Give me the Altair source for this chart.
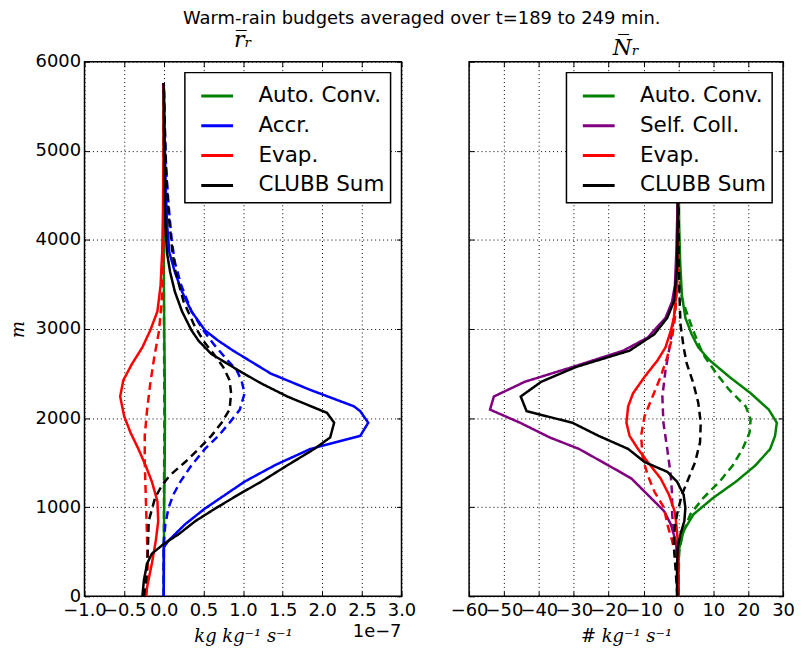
import altair as alt
import pandas as pd

# ---------------- left panel (r_r budgets, units of 1e-7 kg/kg/s) ----------------
L_PROCS = ["Auto. Conv.", "Accr.", "Evap.", "CLUBB Sum"]
L_COLORS = ["#008000", "#0000ff", "#ff0000", "#000000"]

auto_s_z = [0, 1000, 1500, 2000, 2500, 3000, 3500, 4000, 5760]
auto_s_x = [0, 0.005, 0.012, 0.015, 0.012, 0.006, 0.002, 0, 0]
auto_d_z = [0, 1200, 2000, 2800, 3500, 5760]
auto_d_x = [0, 0.003, 0.008, 0.004, 0.001, 0]

accr_s_z = [0, 550, 625, 809, 985, 1287, 1470, 1654, 1801, 1948, 2077, 2132, 2316, 2500,
            2757, 2867, 2985, 3198, 3419, 3640, 3860, 4200, 4600, 5000, 5400, 5760]
accr_s_x = [0, 0, 0.06, 0.27, 0.52, 1.02, 1.40, 1.85, 2.48, 2.58, 2.48, 2.40, 1.85, 1.35,
            0.875, 0.69, 0.52, 0.35, 0.23, 0.14, 0.07, 0.04, 0.025, 0.015, 0.008, 0]
accr_d_z = [0, 600, 809, 992, 1140, 1287, 1470, 1654, 1801, 1948, 2095, 2279, 2426, 2536,
            2684, 2830, 2985, 3198, 3492, 3750, 4000, 4400, 4800, 5200, 5760]
accr_d_x = [0, 0, 0.02, 0.06, 0.12, 0.21, 0.35, 0.52, 0.69, 0.83, 0.96, 1.02, 0.98, 0.92,
            0.77, 0.63, 0.50, 0.35, 0.22, 0.14, 0.10, 0.06, 0.03, 0.015, 0]

evap_s_z = [0, 150, 368, 625, 845, 1066, 1287, 1470, 1654, 1838, 2022, 2242, 2426, 2610,
            2794, 2985, 3198, 3492, 3860, 4300, 5000, 5760]
evap_s_x = [-0.23, -0.2, -0.15, -0.10, -0.07, -0.08, -0.15, -0.23, -0.32, -0.42, -0.50, -0.55,
            -0.51, -0.40, -0.27, -0.17, -0.08, -0.04, -0.02, -0.01, -0.003, 0]
evap_d_z = [0, 404, 625, 919, 1213, 1507, 1801, 2095, 2389, 2684, 2978, 3272, 3566, 4000, 5000, 5760]
evap_d_x = [-0.22, -0.2, -0.21, -0.22, -0.23, -0.24, -0.24, -0.21, -0.17, -0.12, -0.06, -0.03,
            -0.01, -0.005, 0, 0]

sum_s_z = [0, 184, 368, 478, 588, 698, 845, 985, 1140, 1287, 1470, 1654, 1783, 1948, 2059, 2095,
           2242, 2389, 2536, 2720, 2867, 2985, 3198, 3419, 3640, 3860, 4200, 4600, 5000, 5400, 5760]
sum_s_x = [-0.27, -0.25, -0.21, -0.15, 0, 0.19, 0.40, 0.65, 0.94, 1.23, 1.56, 1.90, 2.10, 2.15,
           2.06, 1.96, 1.56, 1.23, 0.94, 0.60, 0.44, 0.35, 0.23, 0.14, 0.08, 0.04, 0.02, 0.01,
           0.005, 0.002, 0]
sum_d_z = [0, 200, 551, 845, 1103, 1250, 1360, 1507, 1654, 1801, 1948, 2095, 2279, 2426, 2573,
           2720, 2867, 3051, 3308, 3640, 3860, 4200, 4600, 5000, 5400, 5760]
sum_d_x = [-0.25, -0.22, -0.2, -0.19, -0.11, -0.02, 0.08, 0.27, 0.44, 0.60, 0.73, 0.83, 0.85,
           0.83, 0.75, 0.63, 0.50, 0.38, 0.25, 0.15, 0.11, 0.07, 0.04, 0.02, 0.01, 0]

# ---------------- right panel (N_r budgets, # /kg/s) ----------------
R_PROCS = ["Auto. Conv.", "Self. Coll.", "Evap.", "CLUBB Sum"]
R_COLORS = ["#008000", "#800080", "#ff0000", "#000000"]

nauto_s_z = [0, 400, 551, 735, 919, 1103, 1287, 1470, 1654, 1801, 1948, 2095, 2279, 2463, 2647,
             2794, 2941, 3125, 3382, 3750, 4200, 5000, 5760]
nauto_s_x = [0, 0, 0.3, 1.5, 4.3, 9.9, 16.5, 22.1, 26.3, 27.7, 28.2, 25.9, 20.7, 14.6, 9.0, 5.7,
             3.8, 2.0, 1.0, 0.5, 0.2, 0.05, 0]
nauto_d_z = [0, 500, 700, 919, 1103, 1287, 1470, 1654, 1838, 1985, 2132, 2316, 2500, 2684, 2794,
             2978, 3125, 3345, 3566, 4000, 5760]
nauto_d_x = [0, 0.2, 1.2, 3.4, 7.1, 11.8, 15.6, 18.4, 20.4, 20.7, 19.3, 14.6, 10.9, 7.6, 6.2,
             4.3, 2.9, 1.0, 0.4, 0.1, 0]

nself_s_z = [0, 400, 625, 809, 956, 1140, 1323, 1470, 1654, 1783, 1948, 2095, 2242, 2408, 2573,
             2757, 2904, 3125, 3308, 3492, 3860, 4300, 5000, 5760]
nself_s_x = [0, -0.2, -0.8, -2.2, -4.1, -8.8, -13.5, -20.1, -28.5, -36.9, -45.4, -54.0, -52.9,
             -44.0, -30.4, -15.8, -8.8, -3.7, -1.8, -1.0, -0.6, -0.3, -0.1, 0]
nself_d_z = [0, 500, 735, 919, 1140, 1360, 1654, 1948, 2242, 2536, 2757, 2978, 3272, 3700, 4500, 5760]
nself_d_x = [0, -0.6, -1.3, -1.8, -1.8, -2.2, -3.2, -4.3, -4.6, -3.7, -2.7, -1.8, -0.8, -0.3,
             -0.05, 0]

nevap_s_z = [0, 400, 625, 809, 956, 1140, 1323, 1507, 1654, 1801, 1948, 2132, 2279, 2463, 2647,
             2794, 2978, 3125, 3492, 4000, 5000, 5760]
nevap_s_x = [0, -0.05, -0.2, -0.6, -1.1, -2.7, -5.1, -8.8, -11.6, -14.0, -14.9, -14.4, -13.0,
             -9.7, -6.0, -3.7, -2.2, -1.3, -0.4, -0.1, 0, 0]
nevap_d_z = [0, 441, 625, 809, 992, 1176, 1360, 1544, 1801, 2022, 2242, 2463, 2684, 2904, 3125,
             3500, 4000, 5760]
nevap_d_x = [0, -0.8, -1.8, -3.2, -4.1, -6.9, -8.8, -10.2, -10.7, -9.7, -7.4, -5.1, -3.2, -1.8,
             -1.0, -0.4, -0.1, 0]

nsum_s_z = [0, 300, 551, 698, 845, 992, 1140, 1287, 1397, 1507, 1654, 1801, 1948, 2077, 2242,
            2408, 2573, 2757, 2941, 3125, 3308, 3676, 4200, 5000, 5760]
nsum_s_x = [-0.4, -0.4, -0.2, 0.6, 1.7, 2.0, 1.5, -0.4, -3.2, -9.7, -14.4, -22.9, -30.4, -43.5,
            -45.2, -39.3, -29.4, -14.0, -6.9, -3.2, -1.3, -0.4, -0.2, -0.1, 0]
nsum_d_z = [0, 300, 551, 698, 919, 1140, 1323, 1507, 1728, 1948, 2169, 2389, 2610, 2794, 3051,
            3382, 3800, 5760]
nsum_d_x = [-0.3, -0.8, -1.3, -1.3, -0.4, 1.0, 2.9, 4.8, 6.2, 6.4, 5.7, 4.3, 2.4, 1.5, 0.6, 0.3,
            0.1, 0]

L_XTICKS = [-1.0, -0.5, 0.0, 0.5, 1.0, 1.5, 2.0, 2.5, 3.0]
R_XTICKS = [-60, -50, -40, -30, -20, -10, 0, 10, 20, 30]
YTICKS = [0, 1000, 2000, 3000, 4000, 5000, 6000]


def build(series):
    rows = []
    for proc, model, zs, xs in series:
        for i, (z, x) in enumerate(zip(zs, xs)):
            rows.append({"process": proc, "model": model, "z": z, "x": x, "i": i})
    return pd.DataFrame(rows)


left_df = build([
    ("Auto. Conv.", "solid", auto_s_z, auto_s_x), ("Auto. Conv.", "dashed", auto_d_z, auto_d_x),
    ("Accr.", "solid", accr_s_z, accr_s_x), ("Accr.", "dashed", accr_d_z, accr_d_x),
    ("Evap.", "solid", evap_s_z, evap_s_x), ("Evap.", "dashed", evap_d_z, evap_d_x),
    ("CLUBB Sum", "solid", sum_s_z, sum_s_x), ("CLUBB Sum", "dashed", sum_d_z, sum_d_x),
])
right_df = build([
    ("Auto. Conv.", "solid", nauto_s_z, nauto_s_x), ("Auto. Conv.", "dashed", nauto_d_z, nauto_d_x),
    ("Self. Coll.", "solid", nself_s_z, nself_s_x), ("Self. Coll.", "dashed", nself_d_z, nself_d_x),
    ("Evap.", "solid", nevap_s_z, nevap_s_x), ("Evap.", "dashed", nevap_d_z, nevap_d_x),
    ("CLUBB Sum", "solid", nsum_s_z, nsum_s_x), ("CLUBB Sum", "dashed", nsum_d_z, nsum_d_x),
])

WL, WR, H = 319, 316, 538
SERIF = "DejaVu Serif"
SANS = "DejaVu Sans"


def tick_axis(orient, values):
    return alt.Axis(orient=orient, offset=-5, values=values, labels=False, domain=False,
                    grid=False, ticks=True, tickSize=5, tickColor="black", tickWidth=1,
                    title=None, minExtent=0, maxExtent=0)


def panel(df, procs, colors, xdom, xticks, xfmt, xtitle, title, show_y, width, extra=None):
    xs = alt.Scale(domain=xdom, nice=False, zero=False)
    ys = alt.Scale(domain=[0, 6000], nice=False, zero=False)
    main = alt.Chart(df).mark_line(strokeWidth=2.5, clip=True).encode(
        x=alt.X("x:Q", scale=xs, axis=alt.Axis(
            orient="bottom", values=xticks, format=xfmt, ticks=False, domain=False,
            grid=True, gridDash=[1, 3], gridColor="black", gridOpacity=1, gridWidth=1,
            labelOverlap=False, labelFlush=False, labelBound=False, labelPadding=5,
            title=xtitle, titleFont=SERIF, titleFontStyle="italic", titleFontWeight="normal",
            titleFontSize=18, titlePadding=8, minExtent=0)),
        y=alt.Y("z:Q", scale=ys, axis=alt.Axis(
            orient="left", values=YTICKS, format="d", ticks=False, domain=False,
            grid=True, gridDash=[1, 3], gridColor="black", gridOpacity=1, gridWidth=1,
            labels=show_y, labelPadding=4, labelOverlap=False, labelFlush=False,
            title="m" if show_y else None, titleFont=SERIF, titleFontStyle="italic",
            titleFontWeight="normal", titleFontSize=18, titlePadding=8, minExtent=0)),
        color=alt.Color("process:N", scale=alt.Scale(domain=procs, range=colors),
                        sort=procs,
                        legend=alt.Legend(
                            orient="top-right", offset=11, title=None,
                            fillColor="white", strokeColor="black", padding=6,
                            symbolType="stroke", symbolSize=1024, symbolStrokeWidth=3,
                            symbolOffset=9, labelOffset=24, rowPadding=1,
                            labelFont=SANS, labelFontSize=21.6, labelColor="black",
                            labelLimit=300)),
        strokeDash=alt.StrokeDash("model:N", scale=alt.Scale(
            domain=["solid", "dashed"], range=[[1, 0], [8, 5]]), legend=None),
        order=alt.Order("i:Q"),
    )
    ticks_bl = alt.Chart(df).mark_point(opacity=0).encode(
        x=alt.X("x:Q", scale=xs, axis=tick_axis("bottom", xticks)),
        y=alt.Y("z:Q", scale=ys, axis=tick_axis("left", YTICKS)),
    )
    ticks_tr = alt.Chart(df).mark_point(opacity=0).encode(
        x=alt.X("x:Q", scale=xs, axis=tick_axis("top", xticks)),
        y=alt.Y("z:Q", scale=ys, axis=tick_axis("right", YTICKS)),
    )
    layers = [main, ticks_bl, ticks_tr]
    if extra is not None:
        layers.append(extra)
    return alt.layer(*layers).resolve_axis(x="independent", y="independent").properties(
        width=width, height=H,
        title=alt.TitleParams(title, font=SERIF, fontStyle="italic", fontWeight="normal",
                              fontSize=22, anchor="middle", offset=1, color="black"))


offset_df = pd.DataFrame({"t": ["1e\u22127"]})
offset_text = alt.Chart(offset_df).mark_text(
    align="right", baseline="top", font=SANS, fontSize=18, color="black").encode(
    x=alt.value(WL), y=alt.value(H + 27), text="t:N")

left = panel(left_df, L_PROCS, L_COLORS, [-1.0, 3.0], L_XTICKS, ".1f",
             "kg kg\u207b\u00b9  s\u207b\u00b9", "r\u0305\u1d63", True, WL, offset_text)
right = panel(right_df, R_PROCS, R_COLORS, [-60, 30], R_XTICKS, "d",
              "# kg\u207b\u00b9  s\u207b\u00b9", "N\u0305\u1d63", False, WR)

chart = alt.hconcat(left, right, spacing=32).resolve_scale(color="independent").properties(
    title=alt.TitleParams("Warm-rain budgets averaged over t=189 to 249 min.",
                          font=SANS, fontSize=18, fontWeight="normal", anchor="middle",
                          offset=0, dx=20, color="black"),
    padding=0,
).configure_view(stroke="black", strokeWidth=1.5).configure_axis(
    labelFont=SANS, labelFontSize=18, labelColor="black", titleColor="black"
).configure_legend(strokeWidth=1.5)

chart.save("out.html", embed_options={"renderer": "svg", "actions": False})
